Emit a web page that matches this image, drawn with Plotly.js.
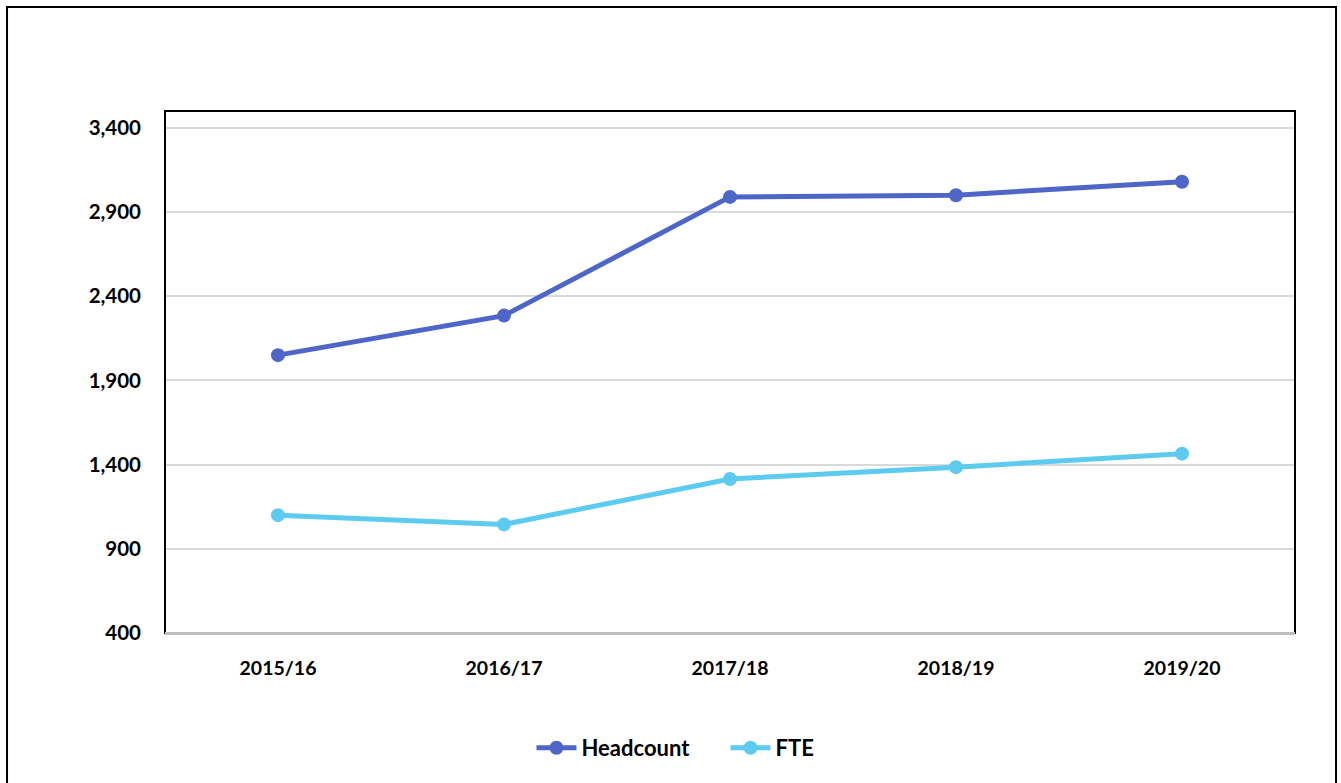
<!DOCTYPE html>
<html>
<head>
<meta charset="utf-8">
<script src="https://cdn.plot.ly/plotly-3.0.1.min.js"></script>
<style>html,body{margin:0;padding:0;background:#fff;}#chart{width:1341px;height:783px;}</style>
</head>
<body>
<div id="chart"></div>
<script>
const categories = ["2015/16", "2016/17", "2017/18", "2018/19", "2019/20"];
const headcount = [2050, 2285, 2990, 3000, 3080];
const fte = [1100, 1045, 1315, 1385, 1465];
const yTicks = [400, 900, 1400, 1900, 2400, 2900, 3400];
const yTickLabels = ["400", "900", "1,400", "1,900", "2,400", "2,900", "3,400"];

const font = {family: "Lato, 'Open Sans', sans-serif", size: 19, color: "#000"};

const traces = [
  {x: categories, y: headcount, name: "Headcount", type: "scatter", mode: "lines+markers",
   line: {color: "#4E66C8", width: 5}, marker: {color: "#4E66C8", size: 14}},
  {x: categories, y: fte, name: "FTE", type: "scatter", mode: "lines+markers",
   line: {color: "#5DCBF0", width: 5}, marker: {color: "#5DCBF0", size: 14}}
];

const layout = {
  width: 1341, height: 783,
  margin: {l: 165, r: 46, t: 111, b: 150},
  paper_bgcolor: "#fff", plot_bgcolor: "#fff",
  font: font,
  showlegend: true,
  legend: {orientation: "h", x: 0.496, xanchor: "center", xref: "paper", y: -0.18, yanchor: "top",
           font: {family: font.family, size: 22, color: "#000", weight: "bold"}, itemwidth: 40,
           entrywidth: 139},
  xaxis: {type: "category", range: [-0.5, 4.5], showgrid: false, zeroline: false,
          showline: true, linecolor: "#bfbfbf", linewidth: 2, ticks: "",
          tickfont: {family: font.family, size: 19.5, color: "#000", weight: "bold"},
          ticklabelstandoff: 17},
  yaxis: {range: [400, 3500], tickvals: yTicks, ticktext: yTickLabels, showgrid: true,
          gridcolor: "#d9d9d9", gridwidth: 2, zeroline: false, showline: false, ticks: "",
          tickfont: {family: font.family, size: 20.5, color: "#000", weight: "bold"},
          ticklabelstandoff: 23},
  shapes: [
    {type: "rect", xref: "paper", yref: "paper", x0: 0, x1: 1, y0: 0, y1: 1,
     line: {color: "#000", width: 2}, fillcolor: "rgba(0,0,0,0)", layer: "above"},
    {type: "line", xref: "paper", yref: "paper", x0: 0, x1: 1, y0: 0, y1: 0,
     line: {color: "#bfbfbf", width: 2}, layer: "above"},
    {type: "rect", xref: "paper", yref: "paper", x0: -0.1398, x1: 1.0363, y0: -0.3, y1: 1.1992,
     line: {color: "#000", width: 2}, fillcolor: "rgba(0,0,0,0)", layer: "above"}
  ]
};

Plotly.newPlot("chart", traces, layout, {displayModeBar: false, staticPlot: true});
</script>
</body>
</html>
